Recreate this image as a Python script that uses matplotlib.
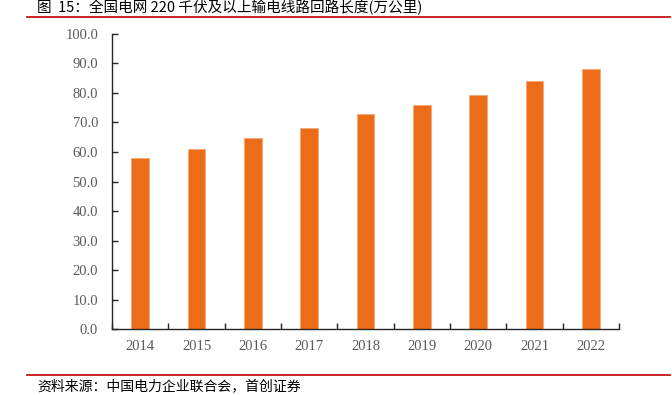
import numpy as np
import matplotlib.pyplot as plt
from matplotlib.ticker import FixedLocator, MultipleLocator, FormatStrFormatter

years = ['2014', '2015', '2016', '2017', '2018', '2019', '2020', '2021', '2022']
length = [57.9, 60.9, 64.6, 68.1, 72.9, 75.9, 79.4, 84.1, 88.0]

cjk = ['Noto Sans CJK SC', 'DejaVu Sans']
serif = ['Liberation Serif', 'Noto Sans CJK SC']

fig = plt.figure(figsize=(6.72, 3.95), dpi=100)
ax = fig.add_axes([0.1667, 0.167, 0.7545, 0.747])

x = np.arange(len(years))
ax.bar(x, length, width=0.31, color='#EC6C17', edgecolor='#F5A878', linewidth=0.6)

ax.set_xlim(-0.5, len(years) - 0.5)
ax.set_ylim(0, 100)
ax.yaxis.set_major_locator(MultipleLocator(10))
ax.yaxis.set_major_formatter(FormatStrFormatter('%.1f'))
ax.set_xticks(x)
ax.set_xticklabels(years)
ax.xaxis.set_minor_locator(FixedLocator(np.arange(-0.5, len(years), 1.0)))

for s in ['top', 'right']:
    ax.spines[s].set_visible(False)
for s in ['left', 'bottom']:
    ax.spines[s].set_color('#262626')
    ax.spines[s].set_linewidth(1.0)

ax.tick_params(axis='x', which='major', length=0, pad=8, labelsize=10.5, labelcolor='#595959')
ax.tick_params(axis='x', which='minor', direction='in', length=4, width=1, color='#262626')
ax.tick_params(axis='y', direction='in', length=4, width=1, color='#262626',
               labelsize=10.5, labelcolor='#595959', pad=10)
for lab in ax.get_xticklabels() + ax.get_yticklabels():
    lab.set_family(serif)

# title and source, with the red rules
fig.text(0.055, 0.98, '图  15：全国电网 220 千伏及以上输电线路回路长度(万公里)',
         family=['Noto Sans CJK SC', 'Liberation Serif'], fontsize=10.5, va='center', ha='left')
fig.add_artist(plt.Line2D([0.04, 0.997], [0.957, 0.957], color='#C00000', linewidth=1.2))
fig.add_artist(plt.Line2D([0.04, 0.997], [0.051, 0.051], color='#C00000', linewidth=1.2))
fig.text(0.055, 0.022, '资料来源：中国电力企业联合会，首创证券',
         family=cjk, fontsize=10, style='italic', va='center', ha='left')

fig.savefig('out.png', dpi=100)
